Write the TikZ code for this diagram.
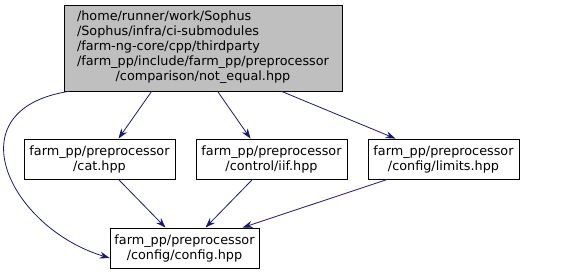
\documentclass[tikz,border=0pt]{standalone}
\usepackage{fontspec}
\setmainfont{DejaVu Sans}
\usetikzlibrary{arrows.meta,positioning,calc}
\definecolor{edgeblue}{HTML}{191970}

\begin{document}
\begin{tikzpicture}[
  x=1pt,y=-1pt,
  font=\fontsize{12.8}{15}\selectfont,
  file/.style={draw=black,line width=0.8pt,fill=white,align=center,inner sep=0pt,minimum width=151pt,minimum height=40pt},
  edge/.style={-{Stealth[length=10pt,width=7pt]},line width=0.8pt,draw=edgeblue}
]
\useasboundingbox (0,0) rectangle (572,275);
% ---------- the header being documented
\node[file,fill=black!25,minimum width=278pt,minimum height=86pt] (top) at (203,48)
  {\begin{tabular}{@{}l@{}}/home/runner/work/Sophus\\/Sophus/infra/ci-submodules\\/farm-ng-core/cpp/thirdparty\\/farm\_pp/include/farm\_pp/preprocessor\\\multicolumn{1}{@{}c@{}}{/comparison/not\_equal.hpp}\end{tabular}};

% ---------- direct includes
\node[file] (cat) at (99.5,159) {farm\_pp/preprocessor\\/cat.hpp};
\node[file] (iif) at (271.5,159) {farm\_pp/preprocessor\\/control/iif.hpp};
\node[file] (limits) at (443.5,159) {farm\_pp/preprocessor\\/config/limits.hpp};
\node[file,minimum width=149pt] (config) at (184.5,248) {farm\_pp/preprocessor\\/config/config.hpp};

% ---------- include edges
\draw[edge] ([xshift=5pt]top.south west) .. controls (-48,110) and (10,228) .. ([yshift=-10pt]config.west);
\draw[edge] ([xshift=88pt]top.south west) -- ([xshift=19pt]cat.north);
\draw[edge] ([xshift=154pt]top.south west) -- ([xshift=-21pt]iif.north);
\draw[edge] ([xshift=218pt]top.south west) -- ([xshift=-48pt]limits.north);
\draw[edge] ([xshift=19pt]cat.south) -- ([xshift=-19pt]config.north);
\draw[edge] ([xshift=-19pt]iif.south) -- ([xshift=21pt]config.north);
\draw[edge] ([xshift=-56pt]limits.south) -- ([xshift=58pt]config.north);
\end{tikzpicture}
\end{document}
